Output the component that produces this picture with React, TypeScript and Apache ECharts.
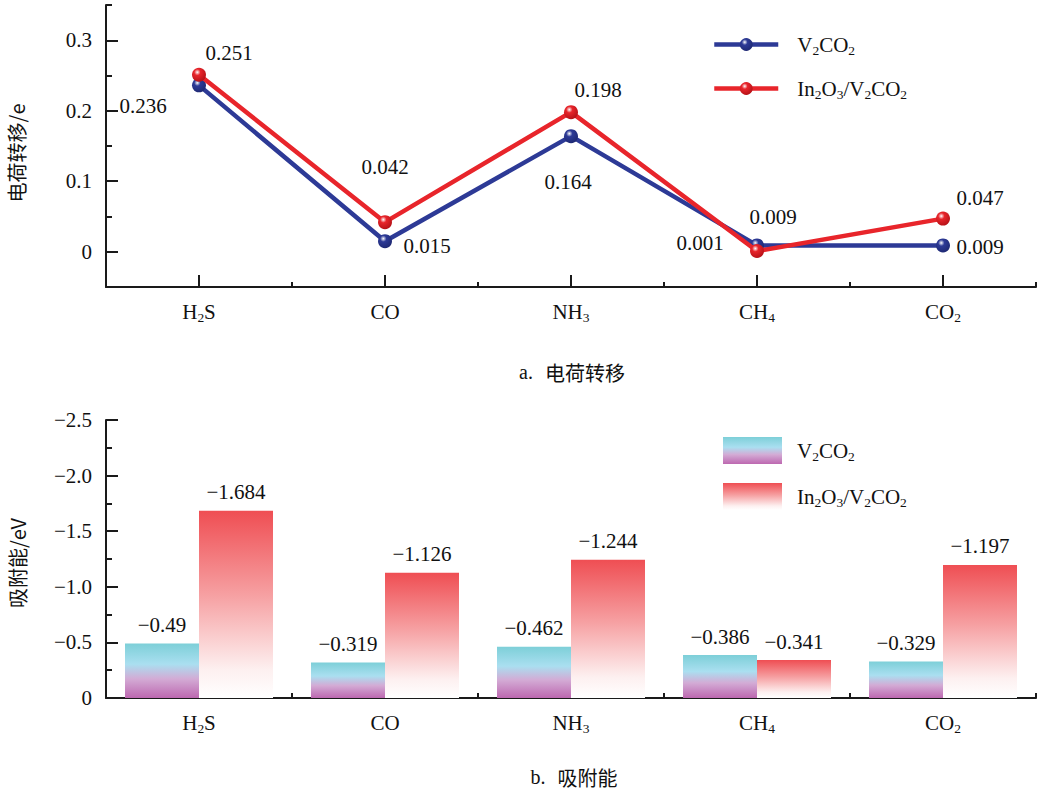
import React, { useEffect, useRef } from 'react';
import * as echarts from 'echarts';

const categories = ['H2S', 'CO', 'NH3', 'CH4', 'CO2'];
const seriesNames = ['V2CO2', 'In2O3/V2CO2'];
const chargeV2CO2 = [0.236, 0.015, 0.164, 0.009, 0.009];
const chargeIn2O3 = [0.251, 0.042, 0.198, 0.001, 0.047];
const adsV2CO2 = [-0.49, -0.319, -0.462, -0.386, -0.329];
const adsIn2O3 = [-1.684, -1.126, -1.244, -0.341, -1.197];
const chargeMajorTicks = [0, 0.1, 0.2, 0.3];
const chargeMinorTicks = [0.05, 0.15, 0.25, 0.35];
const energyMajorTicks = [-2.5, -2, -1.5, -1, -0.5, 0];
const energyMinorTicks = [-2.25, -1.75, -1.25, -0.75, -0.25];

// label offsets (styling)
const offV: number[][] = [[-56, 21], [42, 5], [-3, 46], [16, -28], [37, 2]];
const offI: number[][] = [[30, -22], [0, -55], [27, -22], [-57, -8], [37, -21]];

const SERIF = 'Liberation Serif';
const CJK = 'Noto Sans CJK SC';
const BLUE = '#2d3a96';
const RED = '#e8252b';
const TXT = '#111';
const FS = 21;

const sub = (s: string) =>
  s.replace(/(\D+)|(\d+)/g, (_m: string, a: string, d: string) => (a ? `{n|${a}}` : `{s|${d}}`));

const rich = {
  n: { fontFamily: SERIF, fontSize: FS, color: TXT, lineHeight: 25 },
  s: { fontFamily: SERIF, fontSize: 13.5, color: TXT, lineHeight: 13, verticalAlign: 'bottom' },
};

export default function App() {
  const ref = useRef<HTMLDivElement>(null);
  useEffect(() => {
    if (!ref.current) return;
    const chart = echarts.init(ref.current, undefined, { renderer: 'svg' });

    const ball = (c: string, dark: string) =>
      new echarts.graphic.RadialGradient(0.38, 0.32, 0.75, [
        { offset: 0, color: '#ffffff' },
        { offset: 0.3, color: c },
        { offset: 1, color: dark },
      ]);

    const tealGrad = new echarts.graphic.LinearGradient(0, 0, 0, 1, [
      { offset: 0, color: '#7dcfd8' },
      { offset: 0.38, color: '#aadff0' },
      { offset: 0.65, color: '#d3abd5' },
      { offset: 1, color: '#bd68b0' },
    ]);
    const redGrad = new echarts.graphic.LinearGradient(0, 0, 0, 1, [
      { offset: 0, color: '#ef4e53' },
      { offset: 0.45, color: '#f6a0a2' },
      { offset: 0.85, color: '#fdf0f0' },
      { offset: 1, color: '#ffffff' },
    ]);

    const axisLine = { show: true, lineStyle: { color: '#1a1a1a', width: 2 } };
    const catLabel = {
      formatter: (v: string) => sub(v),
      rich,
      margin: 12,
    };

    const lineLabel = () => ({
      show: true,
      position: 'inside',
      fontFamily: SERIF,
      fontSize: FS,
      color: TXT,
      formatter: (p: any) => '{n|' + Number(p.value).toFixed(3) + '}',
      rich,
    });
    const barLabel = {
      show: true, position: 'top', distance: 6,
      fontFamily: SERIF, fontSize: FS, color: TXT,
      formatter: (p: any) => '{n|\u2212' + Math.abs(p.value) + '}',
      rich,
    };

    const option: any = {
      animation: false,
      backgroundColor: '#ffffff',
      textStyle: { fontFamily: SERIF },
      grid: [
        { left: 106, top: 5, width: 930, height: 282 },
        { left: 106, top: 420, width: 930, height: 278 },
      ],
      xAxis: [
        {
          type: 'category', gridIndex: 0, data: categories, position: 'bottom',
          axisLine: { ...axisLine, onZero: false },
          axisTick: { show: true, inside: true, alignWithLabel: true, length: 12, lineStyle: { color: '#1a1a1a', width: 2 } },
          axisLabel: catLabel,
        },
        {
          type: 'category', gridIndex: 0, data: categories, position: 'bottom',
          axisLine: { show: false, onZero: false },
          axisTick: { show: true, inside: true, length: 5, lineStyle: { color: '#1a1a1a', width: 2 } },
          axisLabel: { show: false },
        },
        {
          type: 'category', gridIndex: 1, data: categories, position: 'bottom',
          axisLine: { ...axisLine, onZero: false },
          axisTick: { show: true, inside: true, alignWithLabel: true, length: 12, lineStyle: { color: '#1a1a1a', width: 2 } },
          axisLabel: catLabel,
        },
        {
          type: 'category', gridIndex: 1, data: categories, position: 'bottom',
          axisLine: { show: false, onZero: false },
          axisTick: { show: true, inside: true, length: 5, lineStyle: { color: '#1a1a1a', width: 2 } },
          axisLabel: { show: false },
        },
      ],
      yAxis: [
        {
          type: 'value', gridIndex: 0, min: -0.05, max: 0.35, position: 'left',
          axisLine,
          splitLine: { show: false },
          axisTick: { show: true, inside: true, length: 12, customValues: chargeMajorTicks, lineStyle: { color: '#1a1a1a', width: 2 } },
          axisLabel: {
            customValues: chargeMajorTicks,
            formatter: (v: number) => '{n|' + (Math.abs(v) < 1e-9 ? '0' : v.toFixed(1)) + '}',
            rich,
            fontFamily: SERIF, fontSize: FS, color: TXT, margin: 14,
          },
        },
        {
          type: 'value', gridIndex: 0, min: -0.05, max: 0.35, position: 'left',
          axisLine: { show: false },
          splitLine: { show: false },
          axisTick: { show: true, inside: true, length: 6, customValues: chargeMinorTicks, lineStyle: { color: '#1a1a1a', width: 2 } },
          axisLabel: { show: false },
        },
        {
          type: 'value', gridIndex: 1, min: -2.5, max: 0, inverse: true, position: 'left',
          axisLine,
          splitLine: { show: false },
          axisTick: { show: true, inside: true, length: 12, customValues: energyMajorTicks, lineStyle: { color: '#1a1a1a', width: 2 } },
          axisLabel: {
            customValues: energyMajorTicks,
            formatter: (v: number) => '{n|' + (Math.abs(v) < 1e-9 ? '0' : '\u2212' + Math.abs(v).toFixed(1)) + '}',
            rich,
            fontFamily: SERIF, fontSize: FS, color: TXT, margin: 14,
          },
        },
        {
          type: 'value', gridIndex: 1, min: -2.5, max: 0, inverse: true, position: 'left',
          axisLine: { show: false },
          splitLine: { show: false },
          axisTick: { show: true, inside: true, length: 6, customValues: energyMinorTicks, lineStyle: { color: '#1a1a1a', width: 2 } },
          axisLabel: { show: false },
        },
      ],
      legend: [
        {
          orient: 'vertical', left: 707, top: 29, itemWidth: 64, itemHeight: 16, itemGap: 21,
          data: [seriesNames[0], seriesNames[1]].map((n) => ({ name: n })),
          formatter: (n: string) => '{g| }' + sub(n),
          textStyle: { rich: { ...rich, g: { width: 14 } } },
          lineStyle: { width: 4.5 },
        },
        {
          orient: 'vertical', left: 718, top: 432, itemWidth: 59, itemHeight: 27, itemGap: 19,
          data: [seriesNames[0] + ' ', seriesNames[1] + ' '].map((n) => ({ name: n, icon: 'rect' })),
          formatter: (n: string) => '{g| }' + sub(n.trim()),
          textStyle: { rich: { ...rich, g: { width: 10 } } },
        },
      ],
      series: [
        {
          name: seriesNames[0], type: 'line', xAxisIndex: 0, yAxisIndex: 0,
          data: chargeV2CO2.map((v, i) => ({ value: v, label: { offset: offV[i] } })),
          symbol: 'circle', symbolSize: 14,
          lineStyle: { color: BLUE, width: 4.5 },
          itemStyle: { color: ball(BLUE, '#1d2770') },
          label: lineLabel(),
          z: 3,
        },
        {
          name: seriesNames[1], type: 'line', xAxisIndex: 0, yAxisIndex: 0,
          data: chargeIn2O3.map((v, i) => ({ value: v, label: { offset: offI[i] } })),
          symbol: 'circle', symbolSize: 14,
          lineStyle: { color: RED, width: 4.5 },
          itemStyle: { color: ball(RED, '#b01015') },
          label: lineLabel(),
          z: 4,
        },
        {
          name: seriesNames[0] + ' ', type: 'bar', xAxisIndex: 2, yAxisIndex: 2,
          data: adsV2CO2, barWidth: 74, barGap: '0%',
          itemStyle: { color: tealGrad },
          label: barLabel,
        },
        {
          name: seriesNames[1] + ' ', type: 'bar', xAxisIndex: 2, yAxisIndex: 2,
          data: adsIn2O3, barWidth: 74, barGap: '0%',
          itemStyle: { color: redGrad },
          label: barLabel,
        },
      ],
      graphic: [
        {
          type: 'text', x: 16, y: 153, rotation: Math.PI / 2,
          style: { text: '电荷转移/e', fontFamily: CJK, fontSize: 20, fill: TXT, align: 'center', verticalAlign: 'middle' },
        },
        {
          type: 'text', x: 17, y: 563, rotation: Math.PI / 2,
          style: { text: '吸附能/eV', fontFamily: CJK, fontSize: 20, fill: TXT, align: 'center', verticalAlign: 'middle' },
        },
        {
          type: 'text', x: 572, y: 372,
          style: {
            text: '{a|a.}{c|电荷转移}', align: 'center', verticalAlign: 'middle',
            rich: {
              a: { fontFamily: SERIF, fontSize: 20, fill: TXT },
              c: { fontFamily: CJK, fontSize: 20, fill: TXT, padding: [0, 0, 0, 12] },
            },
          },
        },
        {
          type: 'text', x: 574, y: 777,
          style: {
            text: '{a|b.}{c|吸附能}', align: 'center', verticalAlign: 'middle',
            rich: {
              a: { fontFamily: SERIF, fontSize: 20, fill: TXT },
              c: { fontFamily: CJK, fontSize: 20, fill: TXT, padding: [0, 0, 0, 12] },
            },
          },
        },
      ],
    };

    chart.setOption(option);
    return () => chart.dispose();
  }, []);

  return (
    <div
      ref={ref}
      style={{ position: 'absolute', left: 0, top: 0, width: 1039, height: 794, background: '#fff' }}
    />
  );
}
